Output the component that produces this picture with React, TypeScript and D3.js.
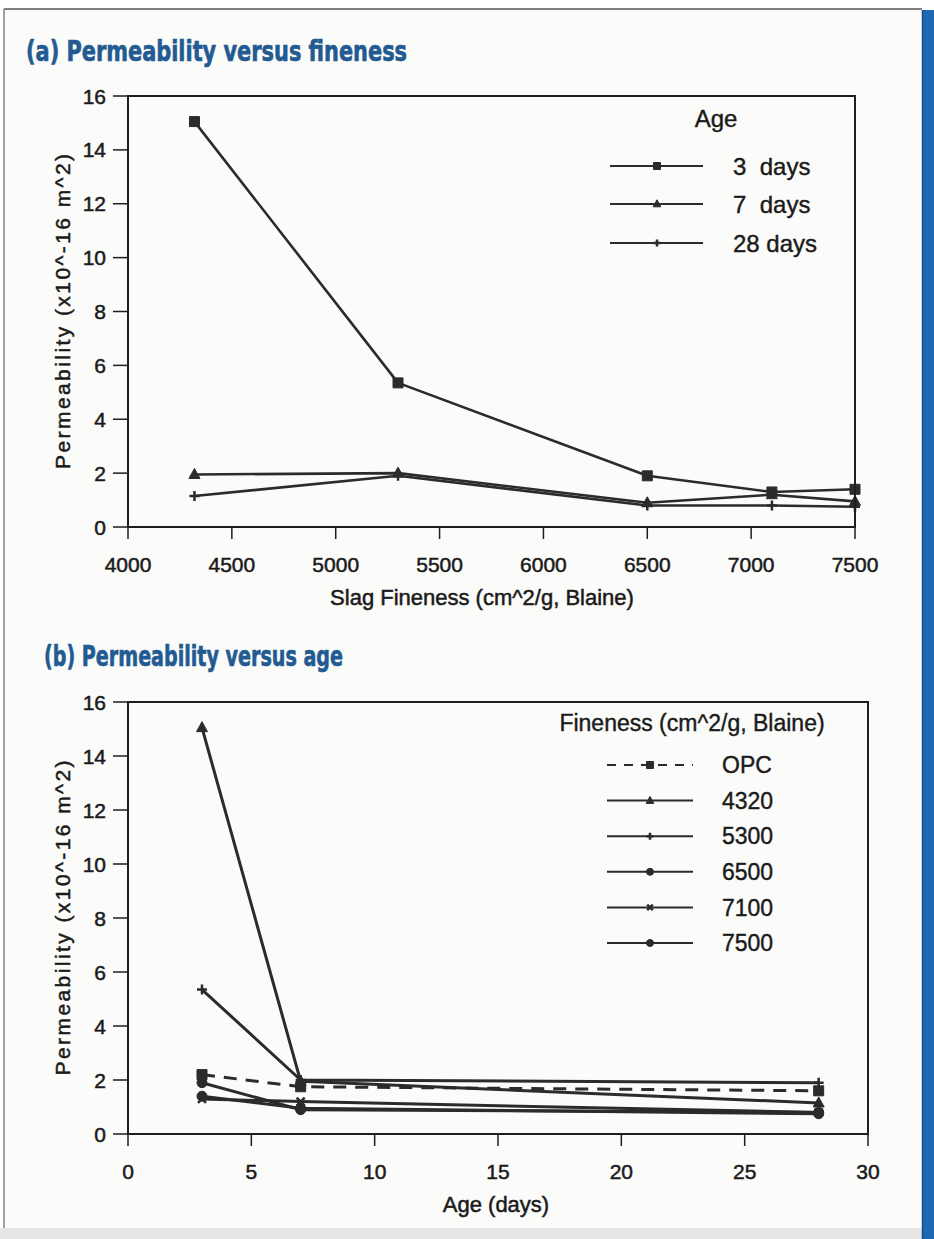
import React from 'react';
import * as d3 from 'd3';

// slag fineness (cm^2/g, Blaine) and curing ages (days)
const finenessLevels = [4320, 5300, 6500, 7100, 7500];
const ages = [3, 7, 28];

// permeability (x10^-16 m^2) at 3, 7 and 28 days
const permOPC = [2.2, 1.75, 1.6];
const perm4320 = [15.05, 1.95, 1.15];
const perm5300 = [5.35, 2.0, 1.9];
const perm6500 = [1.9, 0.9, 0.8];
const perm7100 = [1.3, 1.2, 0.8];
const perm7500 = [1.4, 0.95, 0.75];

const ageLabels = ['3\u00A0\u00A0days', '7\u00A0\u00A0days', '28 days'];
const finenessLabels = ['OPC', '4320', '5300', '6500', '7100', '7500'];

const yTicks = [0, 2, 4, 6, 8, 10, 12, 14, 16];
const xTicksA = [4000, 4500, 5000, 5500, 6000, 6500, 7000, 7500];
const xTicksB = [0, 5, 10, 15, 20, 25, 30];

const INK = '#2b2b2b';
const TEXT = '#1a1a1a';
const TITLE_BLUE = '#225a92';
const FONT = "'Liberation Sans', Arial, sans-serif";
const TITLE_FONT = "'DejaVu Sans Condensed', 'Liberation Sans Narrow', sans-serif";

type Pt = [number, number];

function markerPath(type: string, s: number): string {
  const h = s / 2;
  switch (type) {
    case 'square':
      return `M${-h},${-h}h${s}v${s}h${-s}Z`;
    case 'triangle':
      return `M0,${-h * 1.2}L${h * 1.1},${h * 0.8}L${-h * 1.1},${h * 0.8}Z`;
    case 'plus':
      return `M${-h},0H${h}M0,${-h}V${h}`;
    case 'x':
      return `M${-h * 0.8},${-h * 0.8}L${h * 0.8},${h * 0.8}M${-h * 0.8},${h * 0.8}L${h * 0.8},${-h * 0.8}`;
    default:
      return d3.symbol(d3.symbolCircle, Math.PI * h * h)() || '';
  }
}

function Marker({ type, x, y, s }: { type: string; x: number; y: number; s: number }) {
  const stroked = type === 'plus' || type === 'x';
  return (
    <path
      d={markerPath(type, s)}
      transform={`translate(${x},${y})`}
      fill={stroked ? 'none' : INK}
      stroke={INK}
      strokeWidth={stroked ? 2.5 : 1}
    />
  );
}

interface Series {
  label: string;
  marker: string;
  dash?: string;
  points: Pt[];
}

interface PanelProps {
  left: number;
  right: number;
  top: number;
  bottom: number;
  xDomain: [number, number];
  xTicks: number[];
  xTitle: string;
  xTitleX: number;
  series: Series[];
  lineWidth: number;
  markerSize: number;
}

function Panel(p: PanelProps) {
  const x = d3.scaleLinear().domain(p.xDomain).range([p.left, p.right]);
  const y = d3.scaleLinear().domain([0, 16]).range([p.bottom, p.top]);
  const line = d3.line<Pt>().x(d => x(d[0])).y(d => y(d[1]));
  const midY = (p.top + p.bottom) / 2;

  return (
    <g fontFamily={FONT} fill={TEXT}>
      {p.series.map(s => (
        <g key={s.label}>
          <path d={line(s.points) || ''} fill="none" stroke={INK} strokeWidth={p.lineWidth} strokeDasharray={s.dash} strokeLinejoin="round" />
          {s.points.map((d, i) => (
            <Marker key={i} type={s.marker} x={x(d[0])} y={y(d[1])} s={p.markerSize} />
          ))}
        </g>
      ))}

      <rect x={p.left} y={p.top} width={p.right - p.left} height={p.bottom - p.top} fill="none" stroke="#1e1e1e" strokeWidth={2} />

      <g stroke={TEXT} strokeWidth={0.5}>
        {yTicks.map(t => (
          <g key={t}>
            <line x1={p.left - 15} x2={p.left} y1={y(t)} y2={y(t)} stroke="#1e1e1e" strokeWidth={1.5} />
            <text x={p.left - 22} y={y(t)} dy="0.36em" textAnchor="end" fontSize={21}>{t}</text>
          </g>
        ))}
        {p.xTicks.map(t => (
          <g key={t}>
            <line x1={x(t)} x2={x(t)} y1={p.bottom} y2={p.bottom + 12} stroke="#1e1e1e" strokeWidth={1.5} />
            <text x={x(t)} y={p.bottom + 45} textAnchor="middle" fontSize={21}>{t}</text>
          </g>
        ))}

        <text x={p.xTitleX} y={p.bottom + 78} textAnchor="middle" fontSize={22}>{p.xTitle}</text>
        <text
          transform={`translate(70,${midY}) rotate(-90)`}
          textAnchor="middle"
          fontSize={21}
          textLength={315}
          lengthAdjust="spacing"
        >
          Permeability (x10^-16 m^2)
        </text>
      </g>
    </g>
  );
}

function LegendRow({ y, x0, x1, mx, tx, label, marker, dash, fs, ms }: {
  y: number; x0: number; x1: number; mx: number; tx: number; label: string; marker: string; dash?: string; fs: number; ms: number;
}) {
  return (
    <g>
      <line x1={x0} x2={x1} y1={y} y2={y} stroke={INK} strokeWidth={2} strokeDasharray={dash} />
      <Marker type={marker} x={mx} y={y} s={ms} />
      <text x={tx} y={y} dy="0.36em" fontSize={fs} fontFamily={FONT} fill={TEXT} stroke={TEXT} strokeWidth={0.4}>{label}</text>
    </g>
  );
}

export default function App() {
  const slagPerm = [perm4320, perm5300, perm6500, perm7100, perm7500];
  const ageMarkers = ['square', 'triangle', 'plus'];

  // (a) one line per age, across fineness
  const seriesA: Series[] = ages.map((age, i) => ({
    label: ageLabels[i],
    marker: ageMarkers[i],
    points: finenessLevels.map((f, j) => [f, slagPerm[j][i]] as Pt),
  }));

  // (b) one line per fineness, across age
  const allPerm = [permOPC, ...slagPerm];
  const finenessMarkers = ['square', 'triangle', 'plus', 'circle', 'x', 'circle'];
  const seriesB: Series[] = allPerm.map((vals, i) => ({
    label: finenessLabels[i],
    marker: finenessMarkers[i],
    dash: i === 0 ? '13,9' : undefined,
    points: ages.map((a, k) => [a, vals[k]] as Pt),
  }));

  const legendAY = [166, 204, 243];
  const legendBY = [765, 800.6, 836.2, 871.8, 907.4, 943];

  return (
    <svg width={934} height={1239} style={{ position: 'absolute', left: 0, top: 0, background: '#ffffff' }}>
      <rect x={4} y={9} width={918} height={1219} fill="#fbfbf9" />
      <rect x={0} y={1228} width={922} height={11} fill="#e6e6e6" />
      <line x1={4} x2={922} y1={9} y2={9} stroke="#555" strokeWidth={1.5} />
      <line x1={4} x2={4} y1={9} y2={1228} stroke="#666" strokeWidth={1.2} />
      <rect x={922} y={10} width={12} height={1229} fill="#1e68b2" />
      <line x1={922.5} x2={922.5} y1={10} y2={1239} stroke="#0f4f8f" strokeWidth={1.5} />

      <text
        x={26} y={61} fontSize={28} fontWeight="bold" fill={TITLE_BLUE} stroke={TITLE_BLUE} strokeWidth={0.6}
        fontFamily={TITLE_FONT} textLength={381} lengthAdjust="spacingAndGlyphs"
      >
        (a) Permeability versus fineness
      </text>
      <text
        x={44} y={666} fontSize={28} fontWeight="bold" fill={TITLE_BLUE} stroke={TITLE_BLUE} strokeWidth={0.6}
        fontFamily={TITLE_FONT} textLength={299} lengthAdjust="spacingAndGlyphs"
      >
        (b) Permeability versus age
      </text>

      <Panel
        left={128} right={855} top={96} bottom={527}
        xDomain={[4000, 7500]} xTicks={xTicksA}
        xTitle="Slag Fineness (cm^2/g, Blaine)" xTitleX={482}
        series={seriesA} lineWidth={2.6} markerSize={10}
      />
      <Panel
        left={128} right={868} top={702} bottom={1134}
        xDomain={[0, 30]} xTicks={xTicksB}
        xTitle="Age (days)" xTitleX={496}
        series={seriesB} lineWidth={3} markerSize={10}
      />

      <text x={716} y={127} textAnchor="middle" fontSize={24} fontFamily={FONT} fill={TEXT} stroke={TEXT} strokeWidth={0.4}>Age</text>
      {seriesA.map((s, i) => (
        <LegendRow key={s.label} y={legendAY[i]} x0={610} x1={703} mx={657} tx={733}
          label={s.label} marker={s.marker} fs={24} ms={7} />
      ))}

      <text x={692} y={731} textAnchor="middle" fontSize={23} fontFamily={FONT} fill={TEXT} stroke={TEXT} strokeWidth={0.4}>Fineness (cm^2/g, Blaine)</text>
      {seriesB.map((s, i) => (
        <LegendRow key={s.label} y={legendBY[i]} x0={607} x1={693} mx={650} tx={722}
          label={s.label} marker={s.marker} dash={i === 0 ? '9,8' : undefined} fs={23} ms={7} />
      ))}
    </svg>
  );
}
